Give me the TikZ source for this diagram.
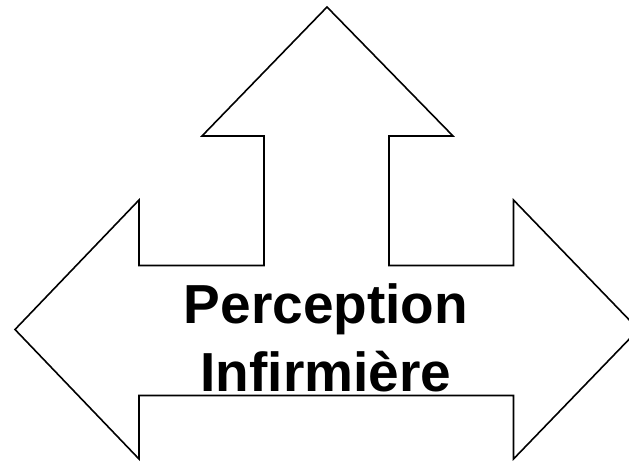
\documentclass[tikz,border=0pt]{standalone}
\usepackage{fontspec}
\setmainfont{Liberation Sans}
\usetikzlibrary{positioning}

\begin{document}
\begin{tikzpicture}[x=1pt,y=-1pt]
\useasboundingbox (0,0) rectangle (629,461);
\clip (0,0) rectangle (629,461);
% three-way arrow outline
\draw[line width=1.6pt,line join=miter] (327,7) -- (453,136) -- (389,136) -- (389,265.5)
  -- (513.5,265.5) -- (513.5,200) -- (638.5,329.5) -- (513.5,459) -- (513.5,395.5)
  -- (139,395.5) -- (139,459) -- (15,329.5) -- (139,200) -- (139,265.5)
  -- (264,265.5) -- (264,136) -- (202,136) -- cycle;
% label
\node[anchor=base,align=center,inner sep=0pt,font=\fontsize{55}{67.7}\selectfont\bfseries] (label) at (326,391.5) {Perception\\Infirmière};
\end{tikzpicture}
\end{document}
